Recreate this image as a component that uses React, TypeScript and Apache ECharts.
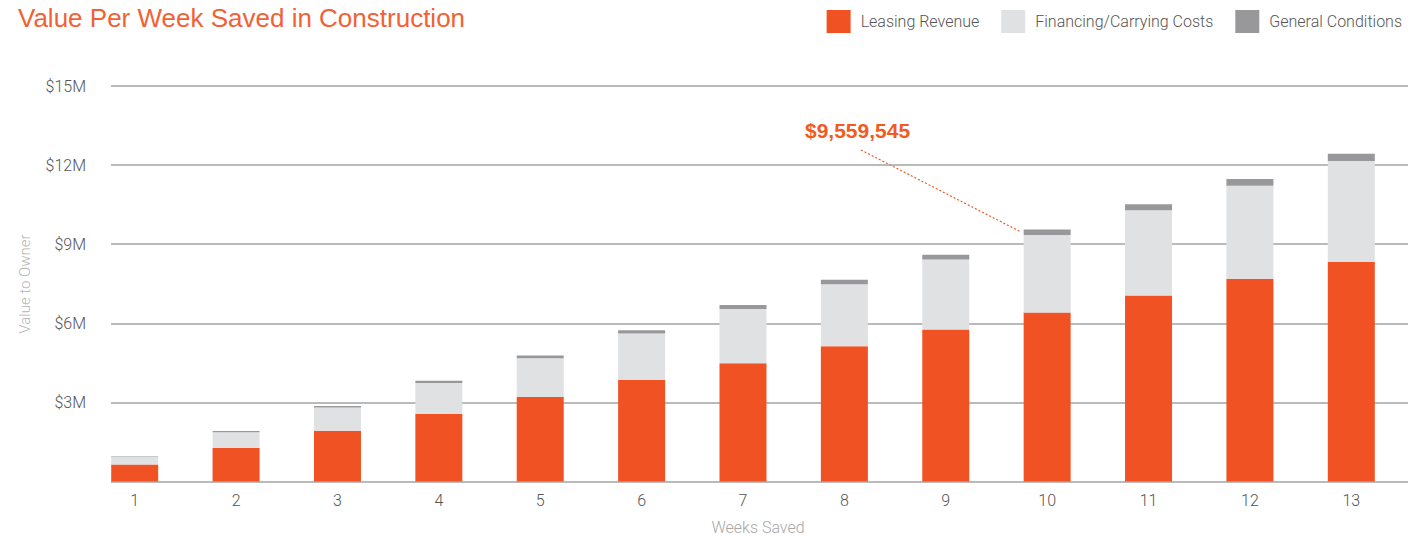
import React, { useEffect, useRef } from "react";
import * as echarts from "echarts";

const weeks = ["1", "2", "3", "4", "5", "6", "7", "8", "9", "10", "11", "12", "13"];
const leasingRevenue = [641000, 1282000, 1923000, 2564000, 3205000, 3846000, 4487000, 5128000, 5769000, 6410000, 7051000, 7692000, 8333000];
const financingCosts = [294000, 588000, 882000, 1176000, 1470000, 1764000, 2058000, 2352000, 2646000, 2940000, 3234000, 3528000, 3822000];
const generalConditions = [21000, 42000, 63000, 84000, 105000, 126000, 147000, 168000, 189000, 209545, 230500, 251500, 272500];
const yTicks = [0, 3000000, 6000000, 9000000, 12000000, 15000000];
const annotationText = "$9,559,545";

const ORANGE = "#f05223";
const LIGHT = "#e0e1e3";
const DARK = "#98989b";
const FONT = "Roboto, 'Liberation Sans', Arial, sans-serif";
const HELV = "'Liberation Sans', Arial, sans-serif";

export default function App() {
  const ref = useRef<HTMLDivElement>(null);
  useEffect(() => {
    if (!ref.current) return;
    const chart = echarts.init(ref.current, null, { renderer: "svg" });
    const top = 86;
    const bottom = 55.5;
    chart.setOption({
      animation: false,
      backgroundColor: "#ffffff",
      textStyle: { fontFamily: FONT },
      title: {
        text: "Value Per Week Saved in Construction",
        left: 18,
        top: 5,
        padding: 0,
        textStyle: { color: "#f26134", fontSize: 26, fontWeight: "normal", fontFamily: HELV },
      },
      legend: {
        right: 8,
        top: 10,
        padding: 0,
        itemWidth: 24,
        itemHeight: 23,
        itemGap: 22,
        icon: "rect",
        textStyle: { color: "#555", fontSize: 16, fontWeight: 300, padding: [0, 0, 0, 5], fontFamily: FONT },
        data: ["Leasing Revenue", "Financing/Carrying Costs", "General Conditions"],
      },
      grid: [
        { left: 84, right: 8, top, bottom },
        { left: 111, right: 2, top, bottom },
      ],
      xAxis: [
        {
          type: "category",
          gridIndex: 0,
          data: weeks,
          axisLine: { show: false },
          axisTick: { show: false },
          axisLabel: { color: "#555", fontSize: 16, fontWeight: 300, margin: 11, fontFamily: FONT },
        },
        { type: "value", gridIndex: 1, show: false, min: 0, max: 1 },
      ],
      yAxis: [
        { type: "value", gridIndex: 0, min: 0, max: 15000000, interval: 3000000, show: false },
        {
          type: "value",
          gridIndex: 1,
          min: yTicks[0],
          max: yTicks[yTicks.length - 1],
          interval: yTicks[1] - yTicks[0],
          axisLine: { show: false },
          axisTick: { show: false },
          splitLine: { show: true, lineStyle: { color: "#a3a3a3", width: 1.5 } },
          axisLabel: {
            color: "#555",
            fontSize: 16,
            fontWeight: 300,
            margin: 25,
            fontFamily: FONT,
            formatter: (v: number) => (v === 0 ? "" : "$" + v / 1000000 + "M"),
          },
        },
      ],
      series: [
        {
          name: "Leasing Revenue",
          type: "bar",
          stack: "v",
          xAxisIndex: 0,
          yAxisIndex: 0,
          barWidth: 47,
          itemStyle: { color: ORANGE },
          data: leasingRevenue,
        },
        {
          name: "Financing/Carrying Costs",
          type: "bar",
          stack: "v",
          xAxisIndex: 0,
          yAxisIndex: 0,
          barWidth: 47,
          itemStyle: { color: LIGHT },
          data: financingCosts,
        },
        {
          name: "General Conditions",
          type: "bar",
          stack: "v",
          xAxisIndex: 0,
          yAxisIndex: 0,
          barWidth: 47,
          itemStyle: { color: DARK },
          data: generalConditions,
        },
      ],
      graphic: [
        {
          type: "text",
          x: 25,
          y: 284,
          rotation: Math.PI / 2,
          style: {
            text: "Value to Owner",
            fill: "#b3b3b3",
            fontSize: 15,
            fontWeight: 300,
            fontFamily: FONT,
            textAlign: "center",
            textVerticalAlign: "middle",
          },
        },
        {
          type: "text",
          x: 758,
          y: 527,
          style: {
            text: "Weeks Saved",
            fill: "#a8a8a8",
            fontSize: 16,
            fontWeight: 300,
            fontFamily: FONT,
            textAlign: "center",
            textVerticalAlign: "middle",
          },
        },
        {
          type: "text",
          x: 805,
          y: 130,
          style: {
            text: annotationText,
            fill: "#f15a22",
            fontSize: 21,
            fontWeight: "bold",
            fontFamily: HELV,
            textAlign: "left",
            textVerticalAlign: "middle",
          },
        },
        {
          type: "line",
          shape: { x1: 861, y1: 150, x2: 1021, y2: 232 },
          style: { stroke: "#f15a22", lineWidth: 1.2, lineDash: [2, 2] },
        },
      ],
    });
    return () => chart.dispose();
  }, []);
  return (
    <div
      ref={ref}
      style={{ position: "fixed", left: 0, top: 0, width: 1410, height: 537, background: "#fff" }}
    />
  );
}
